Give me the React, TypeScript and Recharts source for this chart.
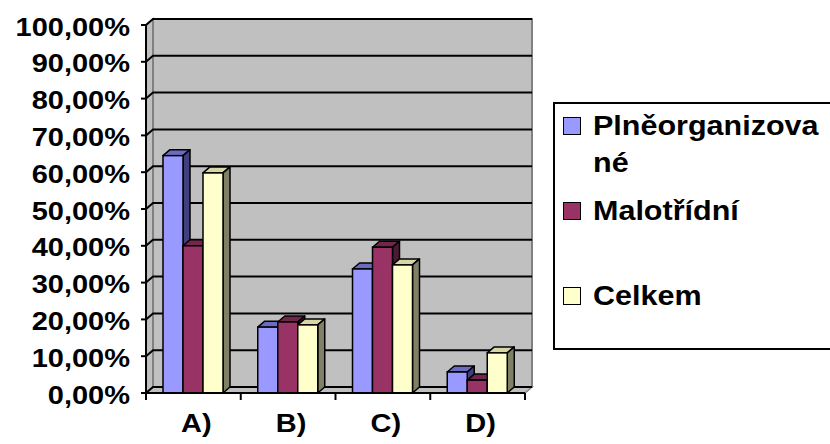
import React from 'react';
import { BarChart, Bar, XAxis, YAxis, CartesianGrid, Legend, ReferenceArea } from 'recharts';

const categories = ['A)', 'B)', 'C)', 'D)'];
const seriesNames = ['Plněorganizované', 'Malotřídní', 'Celkem'];
const plneorganizovane = [64.5, 17.9, 33.7, 5.7];
const malotridni = [40.0, 19.3, 39.6, 3.5];
const celkem = [59.8, 18.5, 34.8, 10.9];
const yTicks = [0, 10, 20, 30, 40, 50, 60, 70, 80, 90, 100];

const data = categories.map((cat, i) => ({
  cat,
  p: plneorganizovane[i],
  m: malotridni[i],
  c: celkem[i],
}));

// 3D depth offset of the walls and bars
const DX = 7;
const DY = 6;
const FONT = '"Liberation Sans", Arial, sans-serif';

const fmt = (v: number) => `${v},00%`;

const makeBar = (front: string, top: string, side: string) => (props: any) => {
  const { x, y, width: w, height: h } = props;
  if (w == null || h == null) return <g />;
  return (
    <g>
      <polygon
        points={`${x},${y} ${x + DX},${y - DY} ${x + w + DX},${y - DY} ${x + w},${y}`}
        fill={top}
        stroke="#000"
        strokeWidth={1.5}
        strokeLinejoin="round"
      />
      <polygon
        points={`${x + w},${y} ${x + w + DX},${y - DY} ${x + w + DX},${y + h - DY} ${x + w},${y + h}`}
        fill={side}
        stroke="#000"
        strokeWidth={1.5}
        strokeLinejoin="round"
      />
      <rect x={x} y={y} width={w} height={h} fill={front} stroke="#000" strokeWidth={1.5} />
    </g>
  );
};

const Walls = (props: any) => {
  const { x, y, width, height } = props;
  const bx = x + DX;
  const by = y - DY;
  return (
    <g>
      <polygon
        points={`${x},${y} ${bx},${by} ${bx},${by + height} ${x},${y + height}`}
        fill="#C0C0C0"
        stroke="#808080"
        strokeWidth={1.5}
      />
      <polygon
        points={`${x},${y + height} ${bx},${by + height} ${bx + width},${by + height} ${x + width},${y + height}`}
        fill="#C0C0C0"
        stroke="#808080"
        strokeWidth={1.5}
      />
      <rect x={bx} y={by} width={width} height={height} fill="#C0C0C0" stroke="#808080" strokeWidth={2} />
    </g>
  );
};

const gridLine = (p: any) => (
  <polyline
    key={`g-${p.index ?? p.y1}`}
    points={`${p.x1},${p.y1} ${p.x1 + DX},${p.y1 - DY} ${p.x2 + DX},${p.y2 - DY}`}
    fill="none"
    stroke="#000"
    strokeWidth={2}
  />
);

const YTick = (props: any) => {
  const { x, y, payload } = props;
  return (
    <text
      x={0}
      y={0}
      transform={`translate(${x},${y}) scale(1.16,1)`}
      textAnchor="end"
      dy="0.42em"
      fontFamily={FONT}
      fontWeight="bold"
      fontSize={25}
      fill="#000"
    >
      {fmt(payload.value)}
    </text>
  );
};

const XTick = (props: any) => {
  const { x, y, payload, index, visibleTicksCount } = props;
  const off = payload.offset || 47.4;
  return (
    <g>
      <line x1={x - off} y1={y} x2={x - off} y2={y + 7} stroke="#000" strokeWidth={2} />
      {index === visibleTicksCount - 1 && (
        <line x1={x + off} y1={y} x2={x + off} y2={y + 7} stroke="#000" strokeWidth={2} />
      )}
      <text
        x={0}
        y={0}
        transform={`translate(${x + 3},${y + 39}) scale(1.16,1)`}
        textAnchor="middle"
        fontFamily={FONT}
        fontWeight="bold"
        fontSize={25}
        fill="#000"
      >
        {payload.value}
      </text>
    </g>
  );
};

const renderLegend = (props: any) => {
  const items = [...(props.payload || [])].sort(
    (a: any, b: any) => seriesNames.indexOf(a.value) - seriesNames.indexOf(b.value)
  );
  return (
    <div
      style={{
        boxSizing: 'border-box',
        width: 290,
        height: 248,
        border: '2px solid #000',
        background: '#fff',
        paddingTop: 3.5,
        fontFamily: FONT,
        fontWeight: 'bold',
        fontSize: 27,
        color: '#000',
        textAlign: 'left',
      }}
    >
      {items.map((e: any) => (
        <div key={e.value} style={{ height: 85, display: 'flex', alignItems: 'flex-start' }}>
          <span
            style={{
              boxSizing: 'border-box',
              flex: 'none',
              width: 18,
              height: 18,
              border: '1.5px solid #000',
              background: e.color,
              marginLeft: 8,
              marginTop: 9.5,
            }}
          />
          <span
            style={{
              display: 'block',
              width: 205,
              marginLeft: 12,
              lineHeight: '37px',
              overflowWrap: 'anywhere',
              wordBreak: 'break-all',
              transform: 'scaleX(1.13)',
              transformOrigin: 'left top',
            }}
          >
            {e.value}
          </span>
        </div>
      ))}
    </div>
  );
};

export default function App() {
  return (
    <div style={{ position: 'absolute', left: 0, top: 0, width: 830, height: 444, background: '#fff', overflow: 'hidden' }}>
      <BarChart
        width={830}
        height={444}
        data={data}
        margin={{ top: 25, right: 305, left: 0, bottom: 0 }}
        barCategoryGap={17}
        barGap={0}
      >
        <ReferenceArea
          y1={0}
          y2={100}
          zIndex={-200}
          shape={(p: any) => <Walls {...p} />}
          ifOverflow="visible"
        />
        <CartesianGrid horizontal={gridLine} vertical={false} />
        <XAxis
          dataKey="cat"
          height={51}
          interval={0}
          tickSize={0}
          tickMargin={0}
          tickLine={false}
          axisLine={{ stroke: '#000', strokeWidth: 2 }}
          tick={<XTick />}
        />
        <YAxis
          domain={[0, 100]}
          ticks={yTicks}
          interval={0}
          width={146}
          tickSize={5}
          tickMargin={11}
          axisLine={{ stroke: '#000', strokeWidth: 2 }}
          tickLine={{ stroke: '#000', strokeWidth: 2 }}
          tick={<YTick />}
        />
        <Legend
          layout="vertical"
          align="center"
          verticalAlign="middle"
          wrapperStyle={{ left: 553, top: 102, width: 290, height: 248 }}
          content={renderLegend}
        />
        <Bar dataKey="p" name={seriesNames[0]} fill="#9999FF" isAnimationActive={false} shape={makeBar('#9999FF', '#6B6BC0', '#40407F')} />
        <Bar dataKey="m" name={seriesNames[1]} fill="#993366" isAnimationActive={false} shape={makeBar('#993366', '#73264D', '#4D1A33')} />
        <Bar dataKey="c" name={seriesNames[2]} fill="#FFFFCC" isAnimationActive={false} shape={makeBar('#FFFFCC', '#D6D6A8', '#808066')} />
      </BarChart>
    </div>
  );
}
